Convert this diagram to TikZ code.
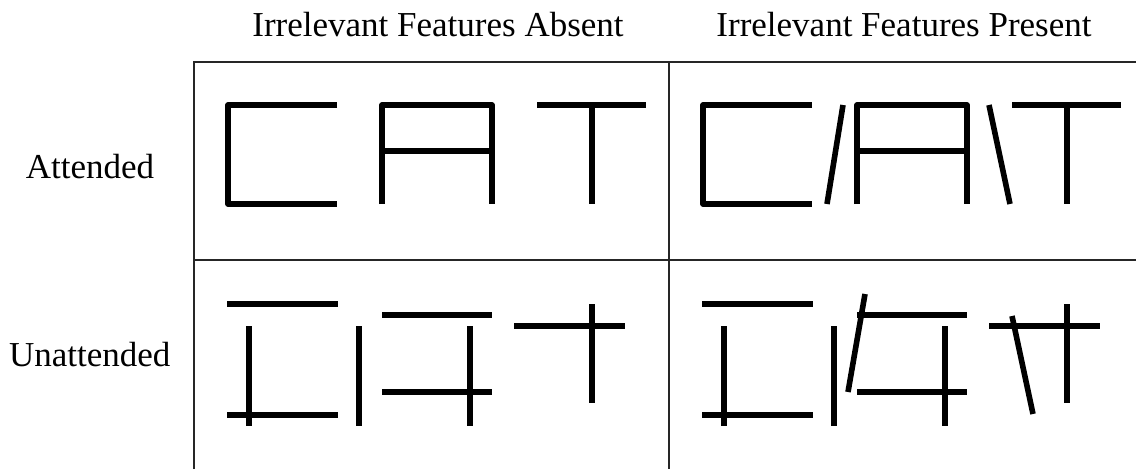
\documentclass[tikz,border=0pt]{standalone}
\usepackage{fontspec}
\setmainfont{Liberation Serif}

\begin{document}
\begin{tikzpicture}[x=1pt,y=-1pt,
    tableline/.style={line width=1.3pt,black!85},
    bar/.style={line width=5.6pt,line join=round},
    every node/.style={font=\fontsize{35}{42}\selectfont,inner sep=0pt}]
  \useasboundingbox (0,0) rectangle (1136,469);

  % headings
  \node[anchor=base] (absent) at (438,36.7) {Irrelevant Features Absent};
  \node[anchor=base] (present) at (904,36.7) {Irrelevant Features Present};
  \node[anchor=base] (att) at (90,178.3) {Attended};
  \node[anchor=base] (unatt) at (89.7,366.7) {Unattended};

  % table rules
  \draw[tableline] (194,469) -- (194,62) -- (1136,62);
  \draw[tableline] (669,62) -- (669,469);
  \draw[tableline] (194,260) -- (1136,260);

  % the same C, A, T in both columns
  \foreach \dx in {0,475} {
    \begin{scope}[xshift=\dx pt]
      \draw[bar] (337,105) -- (228,105) -- (228,204) -- (337,204);
      \draw[bar] (382,204) -- (382,105) -- (492,105) -- (492,204);
      \draw[bar] (382,151) -- (492,151);
      \draw[bar] (537,105) -- (646,105);
      \draw[bar] (592,105) -- (592,204);

      % loose strokes
      \draw[bar] (227,304) -- (338,304);
      \draw[bar] (249,326) -- (249,426);
      \draw[bar] (227,415) -- (338,415);
      \draw[bar] (359,326) -- (359,426);
      \draw[bar] (382,315) -- (492,315);
      \draw[bar] (470,326) -- (470,426);
      \draw[bar] (382,392) -- (492,392);
      \draw[bar] (514,326) -- (625,326);
      \draw[bar] (592,304) -- (592,403);
    \end{scope}
  }

  % extra slanted strokes
  \draw[bar] (827,204) -- (843,105);
  \draw[bar] (989,105) -- (1010,204);
  \draw[bar] (848,392) -- (865,294);
  \draw[bar] (1012,316) -- (1033,414);
\end{tikzpicture}
\end{document}
